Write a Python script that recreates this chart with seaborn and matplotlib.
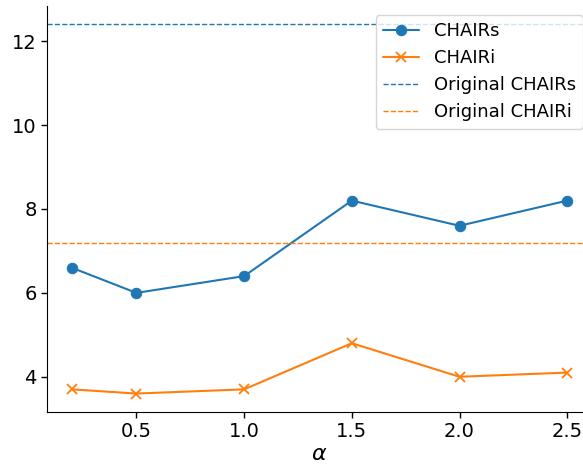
import matplotlib
matplotlib.use("Agg")
import matplotlib.pyplot as plt
import seaborn as sns
import pandas as pd

alpha = [0.2, 0.5, 1.0, 1.5, 2.0, 2.5]
chairs = [6.6, 6.0, 6.4, 8.2, 7.6, 8.2]
chairi = [3.7, 3.6, 3.7, 4.8, 4.0, 4.1]
orig_chairs = 12.4
orig_chairi = 7.2

sns.set_style("ticks", rc={"axes.edgecolor": "black", "text.color": "black",
                           "xtick.color": "black", "ytick.color": "black",
                           "axes.labelcolor": "black", "axes.linewidth": 1.0})
plt.rcParams['font.family'] = ['DejaVu Sans']

fig = plt.figure(figsize=(5.83, 4.68), dpi=100)
ax = fig.add_axes([47/583, 56/468, (592-47)/583, (412-6)/468])

df = pd.DataFrame({"alpha": alpha, "CHAIRs": chairs, "CHAIRi": chairi})
c1, c2 = "#1f77b4", "#ff7f0e"
sns.lineplot(data=df, x="alpha", y="CHAIRs", marker="o", color=c1, label="CHAIRs",
             ax=ax, markersize=7.5, markeredgecolor=c1, linewidth=1.5)
sns.lineplot(data=df, x="alpha", y="CHAIRi", marker="x", color=c2, label="CHAIRi",
             ax=ax, markersize=7.5, markeredgecolor=c2, markeredgewidth=1.3, linewidth=1.5)
ax.axhline(orig_chairs, color=c1, linestyle="--", linewidth=1, label="Original CHAIRs")
ax.axhline(orig_chairi, color=c2, linestyle="--", linewidth=1, label="Original CHAIRi")

ax.set_xlim(0.085, 2.615)
ax.set_ylim(3.16, 12.84)
ax.set_xticks([0.5, 1.0, 1.5, 2.0, 2.5])
ax.set_yticks([4, 6, 8, 10, 12])
ax.tick_params(labelsize=14, width=1.0, length=4)
ax.set_xlabel(r"$\alpha$", fontsize=16, labelpad=2)
ax.set_ylabel("")
sns.despine(ax=ax)
ax.legend(loc="upper right", fontsize=13)

fig.savefig("out.png", dpi=100)
